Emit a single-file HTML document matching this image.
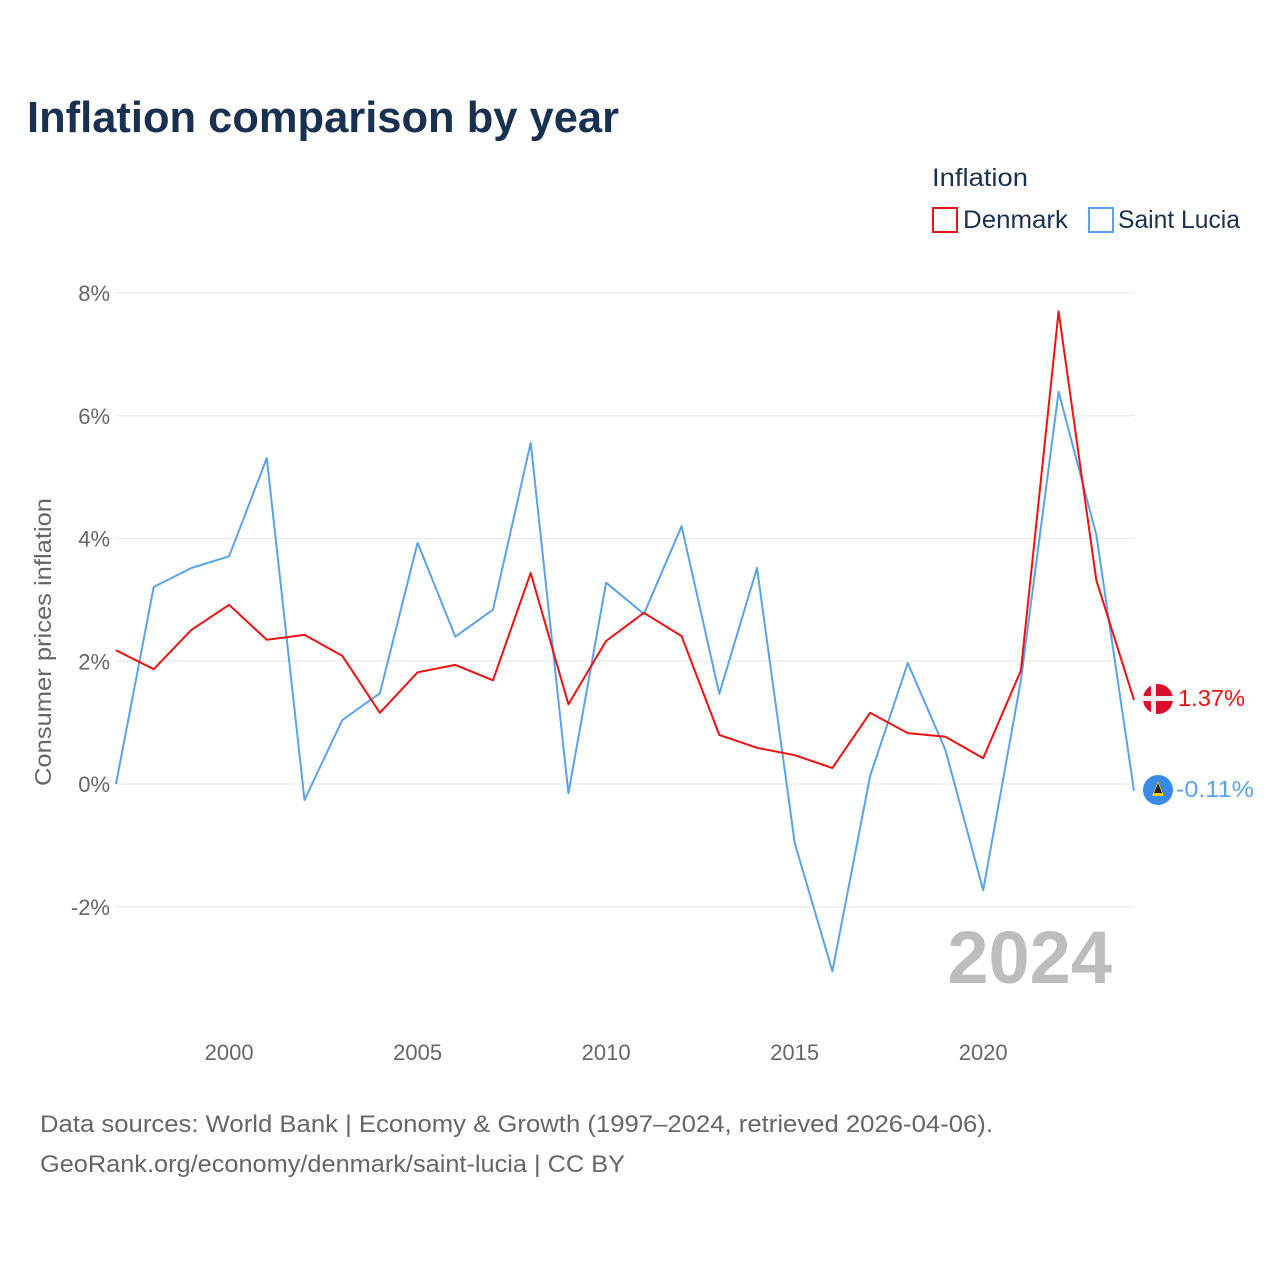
<!DOCTYPE html>
<html><head><meta charset="utf-8"><style>
body{margin:0;background:#fff;font-family:"Liberation Sans",sans-serif}
</style></head><body>
<svg width="1280" height="1280" xmlns="http://www.w3.org/2000/svg" font-family="Liberation Sans, sans-serif">
<rect width="1280" height="1280" fill="#fff"/>
<text x="27" y="132" font-size="44" font-weight="bold" fill="#1a3050" textLength="592" lengthAdjust="spacingAndGlyphs">Inflation comparison by year</text>
<g>
<text x="932" y="186" font-size="25" fill="#1a3050" textLength="96" lengthAdjust="spacingAndGlyphs">Inflation</text>
<g><rect x="933" y="208" width="24" height="24" fill="none" stroke="#ee1111" stroke-width="2"/><text x="963" y="228" font-size="25" fill="#1a3050" textLength="105" lengthAdjust="spacingAndGlyphs">Denmark</text></g>
<g><rect x="1089" y="208" width="24" height="24" fill="none" stroke="#5ba3e8" stroke-width="2"/><text x="1118" y="228" font-size="25" fill="#1a3050" textLength="122" lengthAdjust="spacingAndGlyphs">Saint Lucia</text></g>
</g>
<g id="grid"></g><g id="axes"></g><g id="series"></g>
<text x="1112" y="983" font-size="74" font-weight="bold" fill="#bdbdbd" text-anchor="end">2024</text>
<text transform="translate(51,642) rotate(-90)" font-size="23" fill="#666" text-anchor="middle" textLength="288" lengthAdjust="spacingAndGlyphs">Consumer prices inflation</text>
<g><circle cx="1158" cy="699" r="15" fill="#d8102e"/><rect x="1143" y="696" width="30" height="5" fill="#eee"/><rect x="1151" y="684" width="5" height="30" fill="#eee"/><text x="1178" y="706" font-size="23" fill="#ee1111" textLength="67" lengthAdjust="spacingAndGlyphs">1.37%</text></g>
<g><circle cx="1158" cy="790" r="15" fill="#3a8be8"/><polygon points="1158,781 1164,796 1152,796" fill="#f5d000"/><polygon points="1158,783 1162,793 1154,793" fill="#222"/><text x="1176" y="797" font-size="23" fill="#5ba3e8" textLength="78" lengthAdjust="spacingAndGlyphs">-0.11%</text></g>
<text x="40" y="1132" font-size="24" fill="#666" textLength="953" lengthAdjust="spacingAndGlyphs">Data sources: World Bank | Economy &amp; Growth (1997–2024, retrieved 2026-04-06).</text>
<text x="40" y="1172" font-size="24" fill="#666" textLength="585" lengthAdjust="spacingAndGlyphs">GeoRank.org/economy/denmark/saint-lucia | CC BY</text>
</svg>
<script>
const years=[1997,1998,1999,2000,2001,2002,2003,2004,2005,2006,2007,2008,2009,2010,2011,2012,2013,2014,2015,2016,2017,2018,2019,2020,2021,2022,2023,2024];
const denmark=[2.18,1.87,2.51,2.92,2.35,2.43,2.09,1.16,1.82,1.94,1.69,3.44,1.30,2.33,2.79,2.41,0.80,0.59,0.47,0.26,1.16,0.83,0.77,0.42,1.85,7.70,3.32,1.37];
const saintLucia=[0.0,3.21,3.52,3.71,5.31,-0.26,1.04,1.48,3.93,2.40,2.84,5.56,-0.15,3.28,2.77,4.20,1.47,3.52,-0.96,-3.05,0.13,1.97,0.55,-1.73,1.69,6.39,4.06,-0.11];
const yTicks=[-2,0,2,4,6,8];
const xTicks=[2000,2005,2010,2015,2020];
const NS="http://www.w3.org/2000/svg";
const x=v=>116+(v-1997)*(1134-116)/27;
const y=v=>784-v*(784-293)/8;
const mk=(t,a,p)=>{const e=document.createElementNS(NS,t);for(const k in a)e.setAttribute(k,a[k]);document.getElementById(p).appendChild(e);return e;};
yTicks.forEach(t=>{
 const l=mk('line',{x1:116,x2:1134,y1:y(t),y2:y(t),stroke:'#e6e6e6','stroke-width':1},'grid');
 
 
 const tx=mk('text',{x:110,y:y(t)+8,'font-size':22,fill:'#666','text-anchor':'end'},'axes');
 tx.textContent=t+'%';
 
 
});
xTicks.forEach(t=>{
 const tx=mk('text',{x:x(t),y:1060,'font-size':22,fill:'#666','text-anchor':'middle'},'axes');
 tx.textContent=t;
 
 
});
function line(data,color,name){
 const d=data.map((v,i)=>(i?'L':'M')+x(years[i]).toFixed(1)+','+y(v).toFixed(1)).join('');
 const p=mk('path',{d:d,fill:'none',stroke:color,'stroke-width':2,'stroke-linejoin':'round'},'series');
 
 
}
line(saintLucia,'#5ba3e8','saint-lucia-line');
line(denmark,'#ee1111','denmark-line');
</script>
</body></html>
